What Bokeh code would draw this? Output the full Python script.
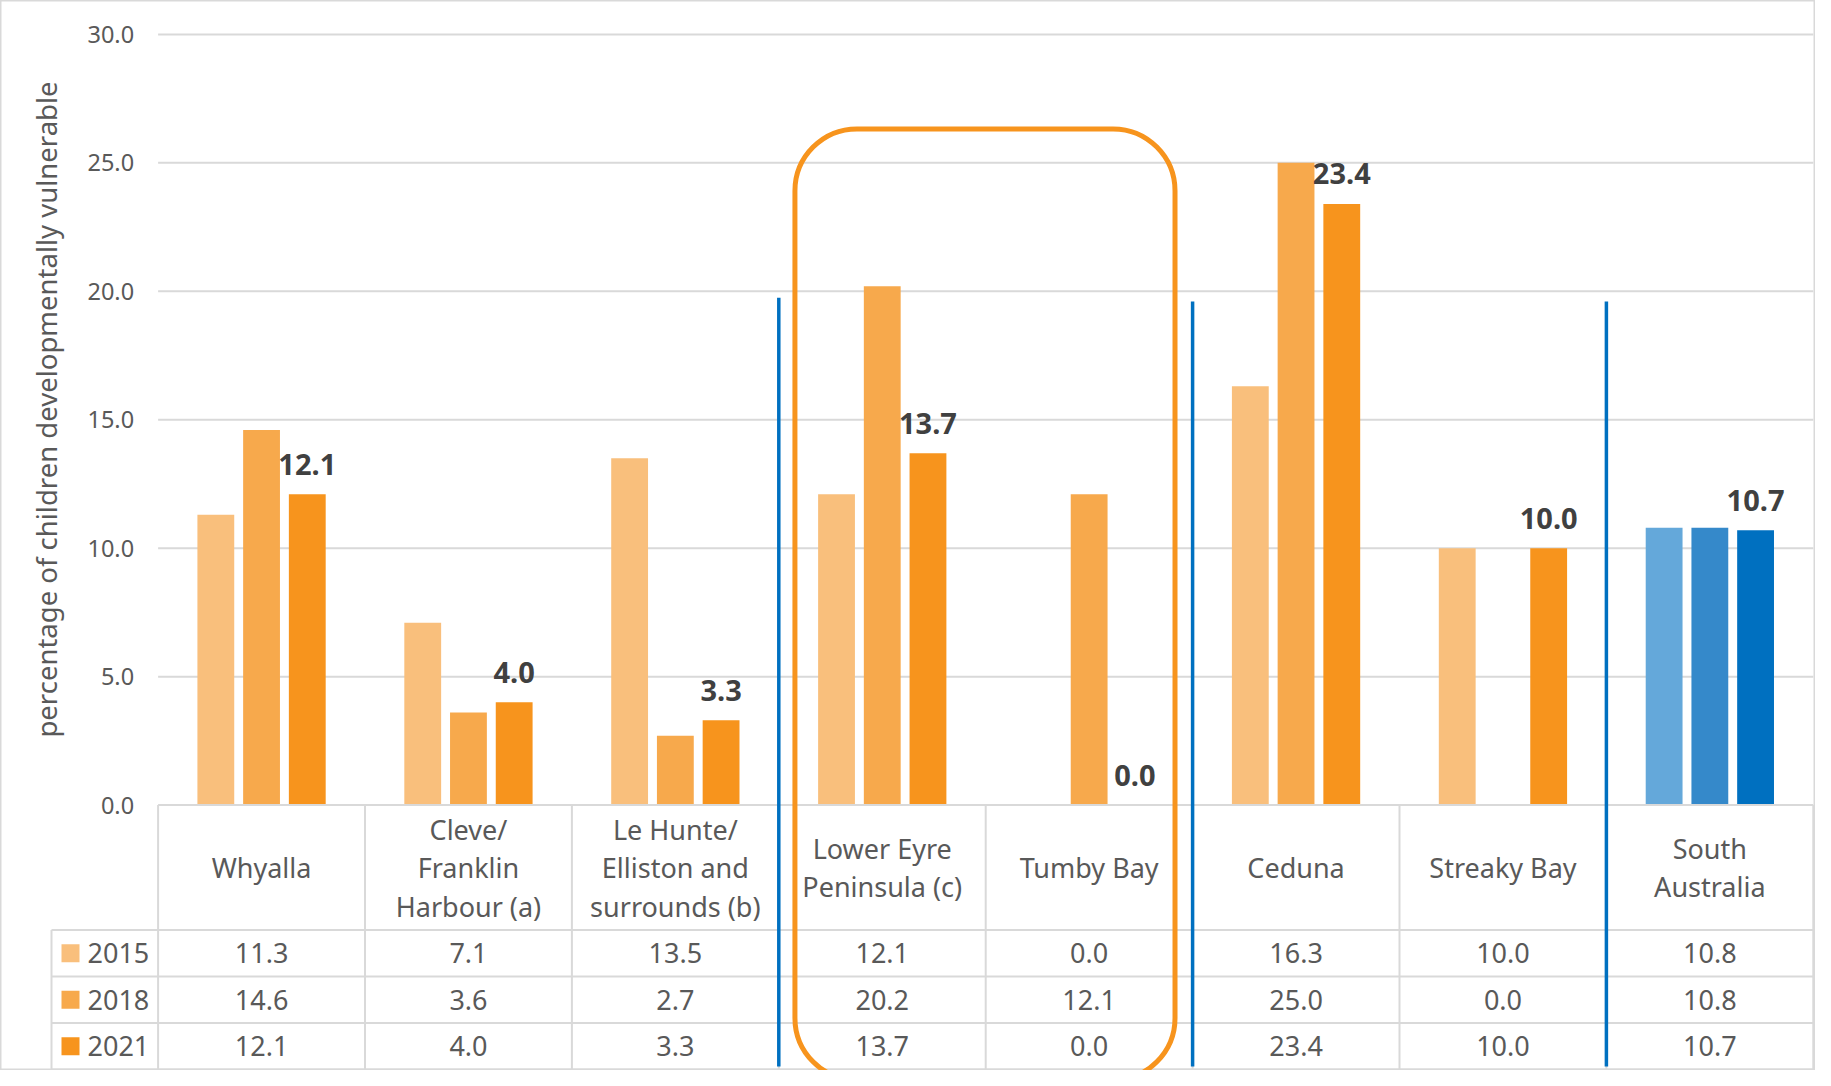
import numpy as np
from bokeh.plotting import figure
from bokeh.models import (Range1d, LinearAxis, FixedTicker, PrintfTickFormatter,
                          BoxAnnotation, ColumnDataSource)
from bokeh.core.properties import value
from bokeh.embed import file_html
from bokeh.resources import INLINE

# ---------------- data ----------------
categories = ["Whyalla", "Cleve/\nFranklin\nHarbour (a)", "Le Hunte/\nElliston and\nsurrounds (b)",
              "Lower Eyre\nPeninsula (c)", "Tumby Bay", "Ceduna", "Streaky Bay", "South\nAustralia"]
years = ["2015", "2018", "2021"]
v2015 = [11.3, 7.1, 13.5, 12.1, 0.0, 16.3, 10.0, 10.8]
v2018 = [14.6, 3.6, 2.7, 20.2, 12.1, 25.0, 0.0, 10.8]
v2021 = [12.1, 4.0, 3.3, 13.7, 0.0, 23.4, 10.0, 10.7]
y_ticks = [0, 5, 10, 15, 20, 25, 30]
y_title = "percentage of children developmentally vulnerable"

# ---------------- styles / layout ----------------
orange = ["#F9BF7C", "#F7A94C", "#F7941D"]
blue = ["#64A8DA", "#3589CA", "#0070C0"]
FONT = "Noto Sans"
GREY_TXT = "#595959"
LINE = "#D9D9D9"

W, H = 1815, 1070
X0, CW = 157.6, 206.9      # canvas x of category 0 left edge, px per category
Y0, PY = 804.6, 25.69      # canvas y of value 0, px per unit
n = len(categories)

x_range = Range1d(-X0 / CW, (W - X0) / CW)
y_range = Range1d((Y0 - H) / PY, Y0 / PY)

p = figure(width=W, height=H, x_range=x_range, y_range=y_range,
           output_backend="svg", toolbar_location=None,
           x_axis_type=None, y_axis_type=None, min_border=0)
p.outline_line_color = LINE
p.outline_line_width = 2
p.background_fill_color = "white"
p.border_fill_color = "white"

# y axis at category-0 left edge
axis = LinearAxis(fixed_location=0, bounds=(0, 30.8),
                  ticker=FixedTicker(ticks=y_ticks),
                  formatter=PrintfTickFormatter(format="%.1f"),
                  axis_line_color=None, major_tick_line_color=None,
                  minor_tick_line_color=None, major_tick_out=0, major_tick_in=0,
                  major_label_standoff=24,
                  major_label_text_font=FONT, major_label_text_font_size="23.5px",
                  major_label_text_color=GREY_TXT,
                  axis_label=y_title, axis_label_standoff=20,
                  axis_label_text_font=FONT, axis_label_text_font_size="27.5px",
                  axis_label_text_font_style="normal", axis_label_text_color=GREY_TXT)
p.add_layout(axis, "left")

# grid lines
gt = [t for t in y_ticks if t > 0]
p.segment(x0=[0] * len(gt), x1=[n] * len(gt), y0=gt, y1=gt, line_color=LINE, line_width=2)

# bars
offs = [-0.221, 0.0, 0.221]
bw = 0.178
series = [v2015, v2018, v2021]
for k, vals in enumerate(series):
    xs = [i + 0.5 + offs[k] for i in range(n)]
    cols = [orange[k]] * (n - 1) + [blue[k]]
    src = ColumnDataSource(dict(x=xs, top=vals, color=cols))
    p.vbar(x="x", top="top", width=bw, bottom=0, fill_color="color", line_color=None, source=src)

# data labels (2021)
lab_src = ColumnDataSource(dict(x=[i + 0.5 + offs[2] for i in range(n)],
                                y=[v + 30 / PY for v in v2021],
                                t=[f"{v:.1f}" for v in v2021]))
p.text(x="x", y="y", text="t", source=lab_src, text_font=value(FONT),
       text_font_style="bold", text_font_size="29px", text_color="#404040",
       text_align="center", text_baseline="alphabetic")

# ---------------- data table ----------------
hdr = 125 / PY
rowh = 46.5 / PY
edges = [-hdr - r * rowh for r in range(4)]
tbl_left = (51 - X0) / CW

# horizontal lines
p.segment(x0=[0], x1=[n], y0=[0], y1=[0], line_color=LINE, line_width=2)
p.segment(x0=[tbl_left] * 4, x1=[n] * 4, y0=edges, y1=edges, line_color=LINE, line_width=2)
# vertical lines
p.segment(x0=list(range(n + 1)), x1=list(range(n + 1)), y0=[0] * (n + 1),
          y1=[edges[-1]] * (n + 1), line_color=LINE, line_width=2)
p.segment(x0=[tbl_left], x1=[tbl_left], y0=[edges[0]], y1=[edges[-1]], line_color=LINE, line_width=2)

# header labels
p.text(x=[i + 0.5 for i in range(n)], y=[-hdr / 2] * n, text=categories,
       text_font=value(FONT), text_font_size="27px", text_color=GREY_TXT,
       text_align="center", text_baseline="middle", text_line_height=1.04)

# values rows
row_c = [(edges[r] + edges[r + 1]) / 2 for r in range(3)]
for r, vals in enumerate(series):
    p.text(x=[i + 0.5 for i in range(n)], y=[row_c[r]] * n,
           text=[f"{v:.1f}" for v in vals], text_font=value(FONT),
           text_font_size="27px", text_color=GREY_TXT,
           text_align="center", text_baseline="middle")

# legend keys in table
p.scatter(x=[(70 - X0) / CW] * 3, y=row_c, marker="square", size=18,
          fill_color=orange, line_color=None)
p.text(x=[(87 - X0) / CW] * 3, y=row_c, text=years, text_font=value(FONT),
       text_font_size="27px", text_color=GREY_TXT, text_align="left",
       text_baseline="middle")

# blue separators
seps = [3, 5, 7]
p.segment(x0=seps, x1=seps, y0=[edges[-1] + 0.12] * 3, y1=[19.75, 19.6, 19.6],
          line_color="#0070C0", line_width=3.5)

# orange highlight box around Lower Eyre Peninsula / Tumby Bay
box = BoxAnnotation(left=3.078, right=4.915, top=26.32, bottom=edges[-1] - 0.4,
                    fill_color=None, fill_alpha=0, line_color="#F7941D",
                    line_alpha=1.0, line_width=5, border_radius=62)
p.add_layout(box)

open("out.html", "w").write(file_html(p, INLINE))
